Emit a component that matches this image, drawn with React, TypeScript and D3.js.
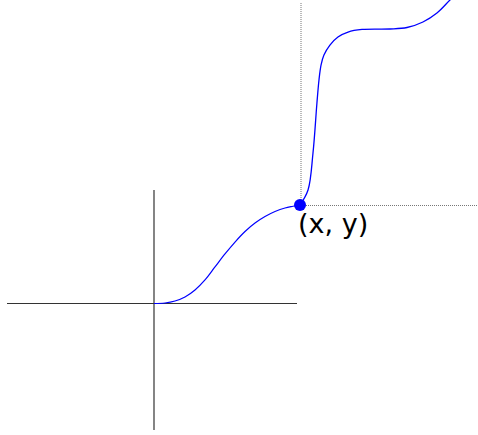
import React from "react";
import * as d3 from "d3";

// Curve through the origin up to the marked point (x, y) = (1, 1)
const curve1X = [0, 0.0753, 0.1438, 0.2123, 0.2808, 0.3493, 0.4178, 0.4863, 0.5548, 0.6233, 0.6918, 0.7603, 0.8288, 0.8973, 0.9521, 1];
const curve1Y = [0, 0.005, 0.025, 0.066, 0.137, 0.239, 0.371, 0.503, 0.624, 0.731, 0.817, 0.883, 0.934, 0.97, 0.987, 1];

// Continuation beyond the marked point
const curve2X = [1, 1.055, 1.089, 1.116, 1.13, 1.144, 1.164, 1.205, 1.26, 1.329, 1.425, 1.616, 1.733, 1.842, 1.938, 2.027, 2.11];
const curve2Y = [1, 1.152, 1.528, 2.036, 2.269, 2.421, 2.523, 2.624, 2.706, 2.756, 2.782, 2.787, 2.802, 2.858, 2.949, 3.081, 3.203];

const pointLabel = "(x, y)";
const markedPoint = { x: 1, y: 1 };

const W = 478;
const H = 435;

export default function App() {
  const x = d3.scaleLinear().domain([0, 1]).range([154, 300]);
  const y = d3.scaleLinear().domain([0, 1]).range([303.5, 205]);

  const pts1: [number, number][] = curve1X.map((v, i) => [v, curve1Y[i]]);
  const pts2: [number, number][] = curve2X.map((v, i) => [v, curve2Y[i]]);

  const line = d3
    .line<[number, number]>()
    .x((d) => x(d[0]))
    .y((d) => y(d[1]))
    .curve(d3.curveCatmullRom.alpha(0.5));

  const px = x(markedPoint.x);
  const py = y(markedPoint.y);

  return (
    <svg
      width={W}
      height={H}
      style={{ position: "fixed", left: 0, top: 0, background: "#fff" }}
    >
      {/* axes */}
      <line x1={7} x2={297} y1={y(0)} y2={y(0)} stroke="#333" strokeWidth={1.2} />
      <line x1={x(0)} x2={x(0)} y1={190} y2={430} stroke="#333" strokeWidth={1.2} />
      {/* dotted guides */}
      <line x1={px + 1} x2={px + 1} y1={3} y2={py} stroke="#777" strokeWidth={1} strokeDasharray="1,1" />
      <line x1={px} x2={W} y1={py + 0.5} y2={py + 0.5} stroke="#777" strokeWidth={1} strokeDasharray="1,1" />
      {/* curve */}
      <path d={line(pts1) || ""} fill="none" stroke="#0000ff" strokeWidth={1.2} />
      <path d={line(pts2) || ""} fill="none" stroke="#0000ff" strokeWidth={1.3} />
      <circle cx={px} cy={py} r={6} fill="#0000ff" />
      <text
        x={px - 2}
        y={233}
        fontFamily="DejaVu Sans, Verdana, sans-serif"
        fontSize={27}
        fill="#000"
      >
        {pointLabel}
      </text>
    </svg>
  );
}
